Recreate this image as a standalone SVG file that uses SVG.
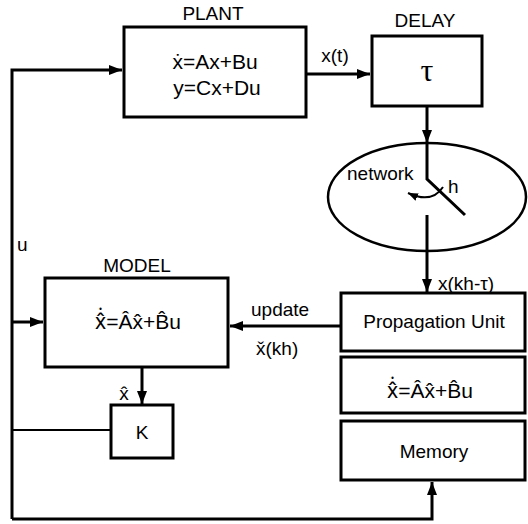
<svg xmlns="http://www.w3.org/2000/svg" width="528" height="524" viewBox="0 0 528 524">
<style>
.box{fill:#fff;stroke:#000;stroke-width:3}
.ln{fill:none;stroke:#000;stroke-width:3}
.thin{fill:none;stroke:#000;stroke-width:2}
text{font-family:"Liberation Sans",Arial,sans-serif;fill:#000;font-size:19px}
.c{text-anchor:middle}
.eq{font-size:21px}
.nd{font-family:"Noto Sans","DejaVu Sans",sans-serif}
</style>
<defs>
<marker id="ah" markerUnits="userSpaceOnUse" markerWidth="14" markerHeight="12" refX="13" refY="6" orient="auto">
<path d="M0,1 L13,6 L0,11 Z" fill="#000"/>
</marker>
<marker id="ahs" markerUnits="userSpaceOnUse" markerWidth="12" markerHeight="10" refX="10" refY="5" orient="auto">
<path d="M0,1 L10,5 L0,9 Z" fill="#000"/>
</marker>
</defs>
<g id="connectors">
<polyline class="ln" points="12,519 12,70 122,70" marker-end="url(#ah)"/>
<line class="ln" x1="12" y1="322" x2="43" y2="322" marker-end="url(#ah)"/>
<line class="ln" x1="306" y1="74" x2="370" y2="74" marker-end="url(#ah)"/>
<line class="ln" x1="427" y1="106" x2="427" y2="143" marker-end="url(#ah)"/>
<polyline class="ln" points="427,143 427,179 465,215"/>
<path class="thin" d="M443,187 Q432,204 408,193" marker-end="url(#ahs)"/>
<line class="ln" x1="427" y1="215" x2="427" y2="292" marker-end="url(#ah)"/>
<line class="ln" x1="341" y1="326" x2="230" y2="326" marker-end="url(#ah)"/>
<line class="ln" x1="142" y1="367" x2="142" y2="404" marker-end="url(#ah)"/>
<line class="thin" x1="111" y1="430" x2="12" y2="430"/>
<polyline class="ln" points="12,519 432,519 432,482" marker-end="url(#ah)"/>
<text x="335" y="62" class="c">x(t)</text>
<text x="438" y="290">x(kh-τ)</text>
<text x="251" y="316">update</text>
<text x="256" y="355">x̌(kh)</text>
<text x="17" y="251">u</text>
<text x="124" y="400" class="c">x̂</text>
</g>
<g id="plant">
<rect class="box" x="124" y="27" width="182" height="90"/>
<text x="213" y="20" class="c">PLANT</text>
<text x="215" y="69" class="c eq">ẋ=Ax+Bu</text>
<text x="217" y="95" class="c eq">y=Cx+Du</text>
</g>
<g id="delay">
<rect class="box" x="372" y="36" width="110" height="70"/>
<text x="425" y="27" class="c">DELAY</text>
<text x="427" y="81" class="c" style="font-family:'Liberation Serif',serif;font-size:32px">τ</text>
</g>
<g id="network">
<ellipse cx="427" cy="197" rx="99" ry="54" fill="none" stroke="#000" stroke-width="2.5"/>
<text x="347" y="180">network</text>
<text x="448" y="193">h</text>
</g>
<g id="propagation">
<rect class="box" x="341" y="293" width="184" height="58"/>
<text x="434" y="328" class="c">Propagation Unit</text>
</g>
<g id="observer">
<rect class="box" x="341" y="357" width="184" height="56"/>
<text x="430" y="398" class="c eq"><tspan class="nd">x̂̇</tspan>=Âx̂+B̂u</text>
</g>
<g id="memory">
<rect class="box" x="341" y="421" width="184" height="59"/>
<text x="434" y="458" class="c">Memory</text>
</g>
<g id="model">
<rect class="box" x="45" y="278" width="183" height="89"/>
<text x="137" y="272" class="c">MODEL</text>
<text x="138" y="329" class="c eq"><tspan class="nd">x̂̇</tspan>=Âx̂+B̂u</text>
</g>
<g id="k">
<rect class="box" x="111" y="405" width="62" height="53"/>
<text x="142" y="439" class="c">K</text>
</g>
</svg>
